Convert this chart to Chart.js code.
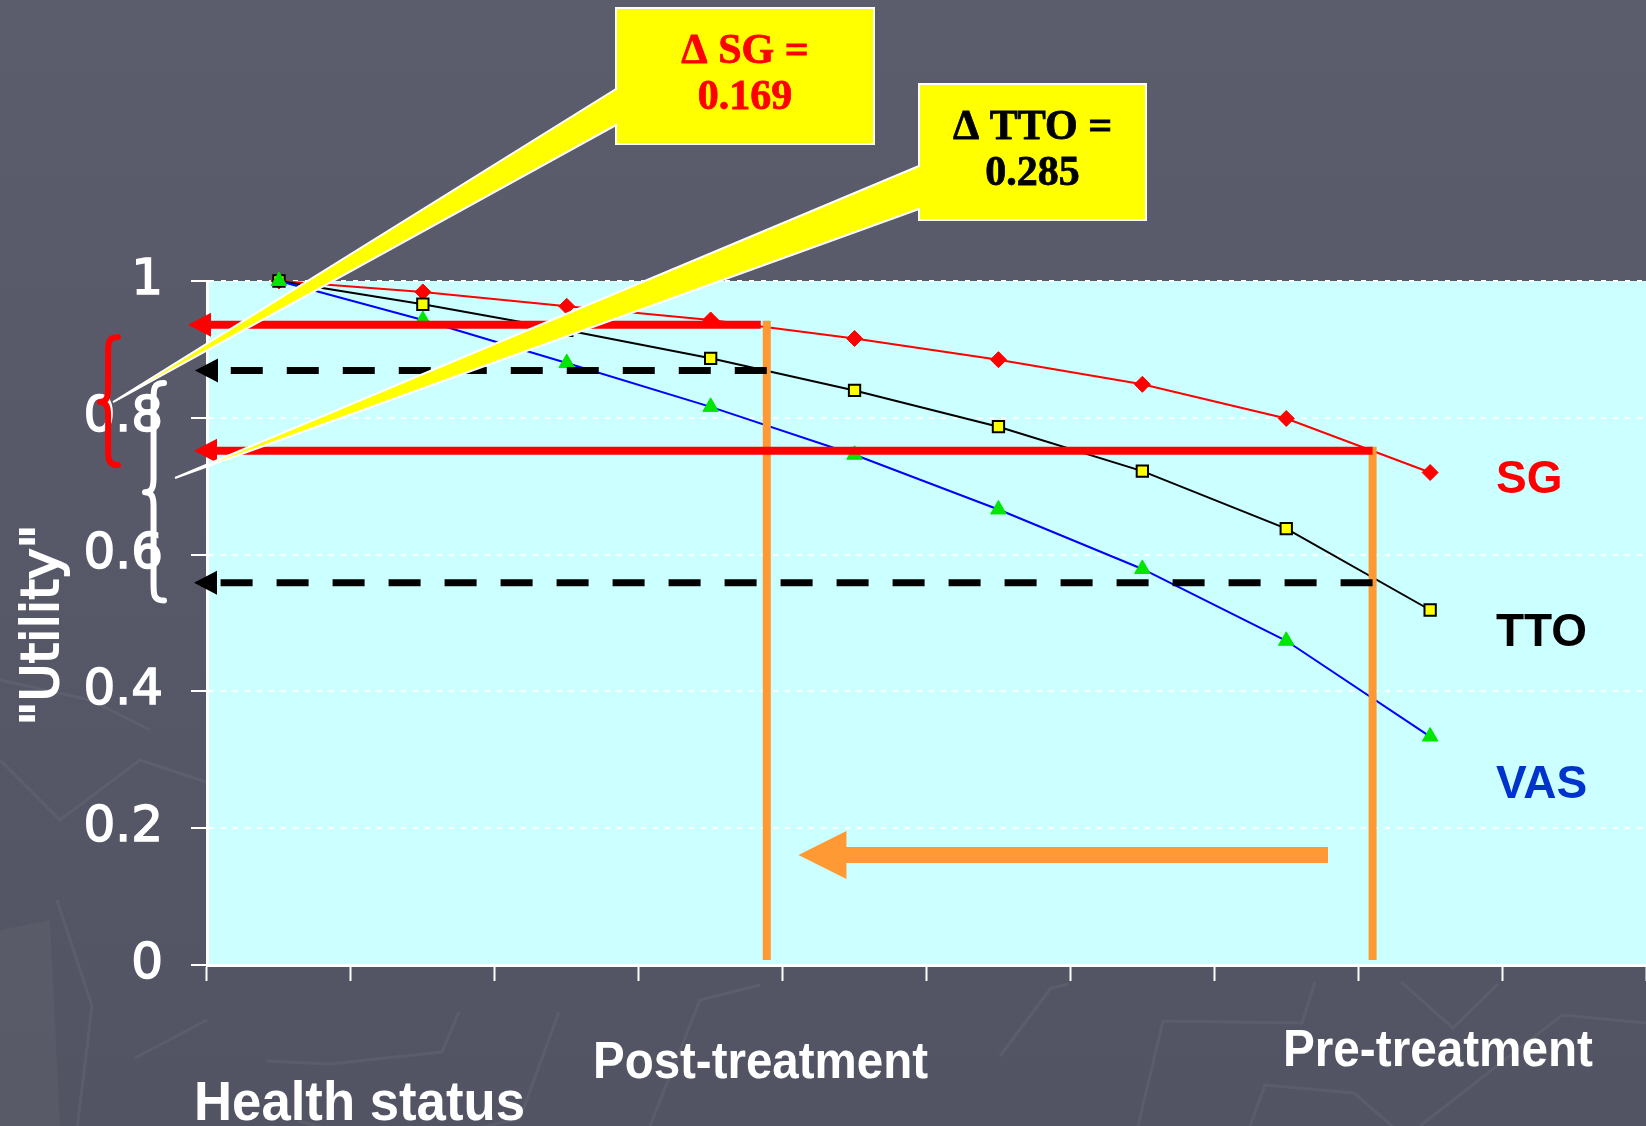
<!DOCTYPE html>
<html>
<head>
<meta charset="utf-8">
<script src="https://cdn.jsdelivr.net/npm/chart.js@4"></script>
<style>
  html, body { margin: 0; padding: 0; background: #585969; }
  canvas { display: block; }
</style>
</head>
<body>
<canvas id="utilityChart" width="1646" height="1126"></canvas>
<script>
// Health states along the x axis (the last slot is left empty)
const healthStates = ['1', '2', '3', '4', '5', '6', '7', '8', '9', ''];

// Utility scores by elicitation method
const sgValues  = [1.000, 0.984, 0.963, 0.943, 0.916, 0.885, 0.849, 0.799, 0.720];
const ttoValues = [1.000, 0.966, 0.928, 0.887, 0.840, 0.787, 0.722, 0.638, 0.519];
const vasValues = [1.000, 0.943, 0.880, 0.816, 0.746, 0.666, 0.579, 0.474, 0.334];

const yTickValues = [0, 0.2, 0.4, 0.6, 0.8, 1];
const seriesNames = ['SG', 'TTO', 'VAS'];

// Treatment positions on the health-status axis (fractional category index)
const postTreatment = 3.39;
const preTreatment  = 7.60;

// Utility: [post-treatment, pre-treatment]
const sgLevels  = [0.936, 0.752];
const ttoLevels = [0.869, 0.559];

// Treatment-shift arrow: from / to (category index) and height (utility)
const shiftFrom = 7.29;
const shiftTo   = 3.61;
const shiftLevel = 0.161;

const sgDeltaText  = ['\u0394 SG =', '0.169'];
const ttoDeltaText = ['\u0394 TTO =', '0.285'];
const axisTitle = '"Utility"';
const xTexts = ['Health status', 'Post-treatment', 'Pre-treatment'];

// ---------- drawing helpers ----------
function leftArrow(ctx, tipX, endX, yv, o) {
  ctx.save();
  ctx.strokeStyle = o.color;
  ctx.fillStyle = o.color;
  ctx.lineWidth = o.width;
  ctx.lineCap = 'butt';
  ctx.setLineDash(o.dash || []);
  ctx.beginPath();
  ctx.moveTo(endX, yv);
  ctx.lineTo(tipX + o.head - 1, yv);
  ctx.stroke();
  ctx.setLineDash([]);
  ctx.beginPath();
  ctx.moveTo(tipX, yv);
  ctx.lineTo(tipX + o.head, yv - o.half);
  ctx.lineTo(tipX + o.head, yv + o.half);
  ctx.closePath();
  ctx.fill();
  ctx.restore();
}

function curlyBrace(ctx, xc, xr, top, mid, bottom, color, width) {
  const xa = xc + (xr - xc) * 0.45;
  ctx.save();
  ctx.strokeStyle = color;
  ctx.lineWidth = width;
  ctx.lineCap = 'round';
  ctx.lineJoin = 'round';
  ctx.beginPath();
  ctx.moveTo(xr, top);
  ctx.bezierCurveTo(xa, top, xa, top + 6, xa, top + 16);
  ctx.lineTo(xa, mid - 14);
  ctx.bezierCurveTo(xa, mid - 4, xa - 2, mid, xc, mid);
  ctx.bezierCurveTo(xa - 2, mid, xa, mid + 4, xa, mid + 14);
  ctx.lineTo(xa, bottom - 16);
  ctx.bezierCurveTo(xa, bottom - 6, xa, bottom, xr, bottom);
  ctx.stroke();
  ctx.restore();
}

function callout(ctx, box, tip, joinTop, joinBot, lines, color) {
  ctx.save();
  ctx.beginPath();
  ctx.moveTo(box.l, box.t);
  ctx.lineTo(box.r, box.t);
  ctx.lineTo(box.r, box.b);
  ctx.lineTo(box.l, box.b);
  ctx.lineTo(box.l, joinBot);
  ctx.lineTo(tip.x, tip.y);
  ctx.lineTo(box.l, joinTop);
  ctx.closePath();
  ctx.fillStyle = '#ffff00';
  ctx.fill();
  ctx.strokeStyle = '#ffffff';
  ctx.lineWidth = 2;
  ctx.stroke();
  ctx.fillStyle = color;
  ctx.strokeStyle = color;
  ctx.lineWidth = 0.8;
  ctx.font = 'bold 42px "Liberation Serif", "Times New Roman", serif';
  ctx.textAlign = 'center';
  ctx.textBaseline = 'alphabetic';
  const cx = (box.l + box.r) / 2;
  ctx.fillText(lines[0], cx, box.t + 55);
  ctx.strokeText(lines[0], cx, box.t + 55);
  ctx.fillText(lines[1], cx, box.t + 101);
  ctx.strokeText(lines[1], cx, box.t + 101);
  ctx.restore();
}

// ---------- plugins ----------
const backdrop = {
  id: 'backdrop',
  beforeDraw(chart) {
    const { ctx, width, height, chartArea: a } = chart;
    ctx.save();
    const g = ctx.createLinearGradient(0, 0, 0, height);
    g.addColorStop(0, '#5b5c6c');
    g.addColorStop(1, '#535463');
    ctx.fillStyle = g;
    ctx.fillRect(0, 0, width, height);

    // faint chart-paper strokes in the slide background
    ctx.strokeStyle = 'rgba(255,255,255,0.05)';
    ctx.lineWidth = 3;
    const strokes = [
      [[0, 760], [60, 820], [140, 760], [230, 790]],
      [[57, 900], [92, 1006], [75, 1146]],
      [[135, 1058], [207, 1020]],
      [[267, 1061], [330, 1064], [442, 1052], [459, 1012]],
      [[298, 1121], [402, 1147], [520, 1118], [559, 1012]],
      [[1000, 1056], [1051, 988], [1068, 984]],
      [[1138, 1126], [1163, 1021], [1302, 1023], [1315, 982]],
      [[1401, 982], [1453, 1028], [1498, 984]],
      [[1250, 1126], [1265, 1085], [1354, 1093], [1407, 1139]],
      [[1420, 1126], [1562, 1015], [1646, 1023]],
      [[650, 1126], [700, 1000], [760, 985]],
      [[0, 680], [90, 700], [150, 730]]
    ];
    for (const s of strokes) {
      ctx.beginPath();
      ctx.moveTo(s[0][0], s[0][1]);
      for (let i = 1; i < s.length; i++) ctx.lineTo(s[i][0], s[i][1]);
      ctx.stroke();
    }
    ctx.fillStyle = 'rgba(255,255,255,0.035)';
    ctx.beginPath();
    ctx.moveTo(0, 930); ctx.lineTo(50, 920); ctx.lineTo(60, 1126); ctx.lineTo(0, 1126);
    ctx.closePath();
    ctx.fill();

    // plot area
    ctx.fillStyle = '#ccffff';
    ctx.fillRect(a.left, a.top, a.right - a.left, a.bottom - a.top);
    ctx.restore();
  }
};

const overlays = {
  id: 'overlays',
  afterDatasetsDraw(chart) {
    const { ctx, chartArea: a, scales: { x, y } } = chart;
    const xPost = x.getPixelForValue(postTreatment);
    const xPre = x.getPixelForValue(preTreatment);
    const yBase = y.getPixelForValue(0);

    // treatment markers
    ctx.save();
    ctx.strokeStyle = '#ff9933';
    ctx.lineWidth = 8;
    ctx.beginPath();
    ctx.moveTo(xPost, y.getPixelForValue(sgLevels[0]) - 4);
    ctx.lineTo(xPost, yBase - 5);
    ctx.moveTo(xPre, y.getPixelForValue(sgLevels[1]) - 4);
    ctx.lineTo(xPre, yBase - 5);
    ctx.stroke();
    ctx.restore();

    // shift from pre- to post-treatment
    leftArrow(ctx, x.getPixelForValue(shiftTo), x.getPixelForValue(shiftFrom),
      y.getPixelForValue(shiftLevel), { color: '#ff9933', width: 16, head: 48, half: 24 });

    // SG readings
    leftArrow(ctx, a.left - 19, xPost - 6, y.getPixelForValue(sgLevels[0]),
      { color: '#ff0000', width: 8, head: 23, half: 12 });
    leftArrow(ctx, a.left - 13, xPre, y.getPixelForValue(sgLevels[1]),
      { color: '#ff0000', width: 8, head: 23, half: 12 });

    // TTO readings
    leftArrow(ctx, a.left - 12, xPost, y.getPixelForValue(ttoLevels[0]),
      { color: '#000000', width: 7, head: 23, half: 12, dash: [32, 24] });
    leftArrow(ctx, a.left - 13, xPre, y.getPixelForValue(ttoLevels[1]),
      { color: '#000000', width: 7, head: 23, half: 12, dash: [32, 24] });

    // braces spanning each difference
    curlyBrace(ctx, a.left - 107, a.left - 89,
      y.getPixelForValue(0.918), y.getPixelForValue(0.823), y.getPixelForValue(0.731), '#ff0000', 6);
    curlyBrace(ctx, a.left - 62, a.left - 43,
      y.getPixelForValue(0.851), y.getPixelForValue(0.691), y.getPixelForValue(0.533), '#ffffff', 6);

    // delta call-outs
    callout(ctx, { l: 616, r: 874, t: 8, b: 144 }, { x: a.left - 94, y: y.getPixelForValue(0.823) },
      89, 125, sgDeltaText, '#ff0000');
    callout(ctx, { l: 919, r: 1146, t: 84, b: 220 }, { x: a.left - 32, y: y.getPixelForValue(0.712) },
      166, 209, ttoDeltaText, '#000000');

    // series labels
    ctx.save();
    ctx.font = 'bold 46px "Liberation Sans", Arial, sans-serif';
    ctx.textAlign = 'left';
    ctx.textBaseline = 'alphabetic';
    const labelColors = ['#ff0000', '#000000', '#0033cc'];
    const labelBaselines = [493, 646, 798];
    seriesNames.forEach((n, i) => {
      ctx.fillStyle = labelColors[i];
      ctx.fillText(n, 1496, labelBaselines[i]);
    });

    // x-axis captions
    ctx.fillStyle = '#ffffff';
    ctx.font = 'bold 55px "Liberation Sans", Arial, sans-serif';
    ctx.fillText(xTexts[0], 194, 1120, 331);
    ctx.font = 'bold 52px "Liberation Sans", Arial, sans-serif';
    ctx.fillText(xTexts[1], 593, 1078, 335);
    ctx.fillText(xTexts[2], 1283, 1066, 310);

    // y-axis title
    ctx.translate(58, 625);
    ctx.rotate(-Math.PI / 2);
    ctx.textAlign = 'center';
    ctx.font = '52px "DejaVu Sans", Verdana, sans-serif';
    ctx.lineWidth = 2;
    ctx.strokeStyle = '#ffffff';
    ctx.strokeText(axisTitle, 0, 0);
    ctx.fillText(axisTitle, 0, 0);
    ctx.restore();
  }
};

// ---------- chart ----------
new Chart(document.getElementById('utilityChart'), {
  type: 'line',
  data: {
    labels: healthStates,
    datasets: [
      {
        label: seriesNames[2], data: vasValues, order: 0, clip: false,
        borderColor: '#0000ff', borderWidth: 2, tension: 0,
        pointStyle: 'triangle', pointRadius: 9,
        pointBackgroundColor: '#00e600', pointBorderColor: '#00e600', pointBorderWidth: 1
      },
      {
        label: seriesNames[1], data: ttoValues, order: 1, clip: false,
        borderColor: '#000000', borderWidth: 2, tension: 0,
        pointStyle: 'rect', pointRadius: 8,
        pointBackgroundColor: '#ffff00', pointBorderColor: '#000000', pointBorderWidth: 2
      },
      {
        label: seriesNames[0], data: sgValues, order: 2, clip: false,
        borderColor: '#ff0000', borderWidth: 2, tension: 0,
        pointStyle: 'rectRot', pointRadius: 8,
        pointBackgroundColor: '#ff0000', pointBorderColor: '#ff0000', pointBorderWidth: 1
      }
    ]
  },
  options: {
    responsive: false,
    animation: false,
    devicePixelRatio: 1,
    layout: { autoPadding: false, padding: { top: 281, left: 0, right: 0, bottom: 0 } },
    plugins: { legend: { display: false }, tooltip: { enabled: false } },
    elements: { point: { hoverRadius: 0 } },
    scales: {
      x: {
        type: 'category',
        offset: true,
        grid: {
          offset: true, drawOnChartArea: false, drawTicks: true,
          tickLength: 16, tickColor: '#ffffff', tickWidth: 2
        },
        border: { color: '#ffffff', width: 3 },
        ticks: { callback: () => '', padding: 0 },
        afterFit: (s) => { s.height = 161; }
      },
      y: {
        min: 0,
        max: 1,
        afterBuildTicks: (s) => { s.ticks = yTickValues.map(v => ({ value: v })); },
        ticks: {
          color: '#ffffff',
          font: { family: '"DejaVu Sans", Verdana, sans-serif', size: 50 },
          padding: 28,
          textStrokeColor: '#ffffff',
          textStrokeWidth: 1.5,
          callback: (v) => String(Math.round(v * 10) / 10)
        },
        grid: {
          color: '#ffffff', lineWidth: 2,
          borderDash: [5, 7], tickBorderDash: [],
          tickLength: 16, tickColor: '#ffffff', tickWidth: 2
        },
        border: { color: '#ffffff', width: 3, dash: [5, 7] },
        afterFit: (s) => { s.width = 207; }
      }
    }
  },
  plugins: [backdrop, overlays]
});
</script>
</body>
</html>
